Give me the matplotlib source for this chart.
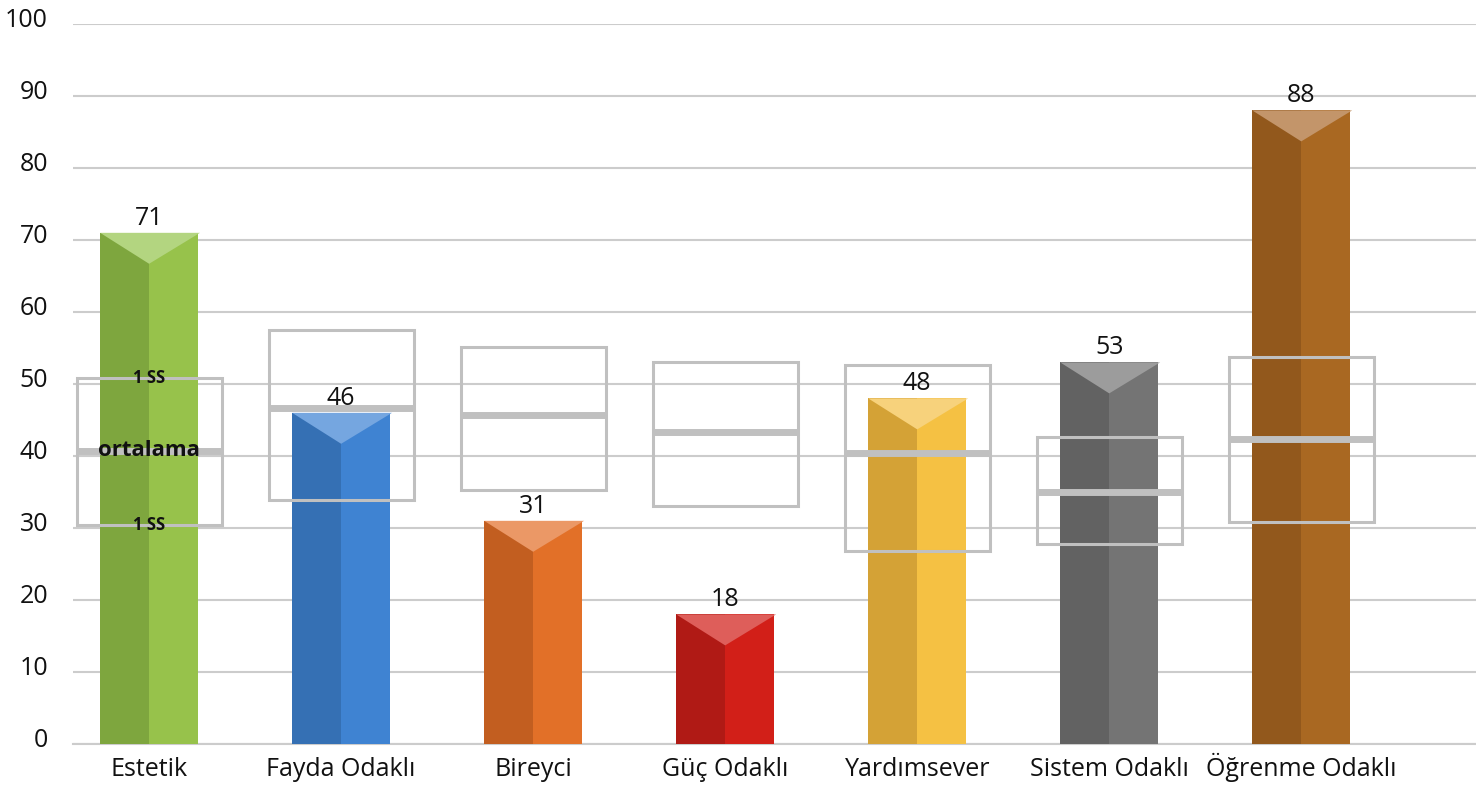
import matplotlib.pyplot as plt
from matplotlib.patches import Rectangle, Polygon
from matplotlib.transforms import ScaledTranslation

plt.rcParams['font.family'] = ['Open Sans', 'DejaVu Sans']

categories = ['Estetik', 'Fayda Odaklı', 'Bireyci', 'Güç Odaklı',
              'Yardımsever', 'Sistem Odaklı', 'Öğrenme Odaklı']
scores = [71, 46, 31, 18, 48, 53, 88]
means = [40.7, 46.7, 45.7, 43.3, 40.4, 35.0, 42.4]
sd_high = [50.8, 57.5, 55.1, 53.1, 52.6, 42.6, 53.8]
sd_low = [30.4, 33.9, 35.3, 33.1, 26.8, 27.8, 30.8]

dark = ['#7ea63e', '#3570b4', '#c25e20', '#b01a15', '#d4a236', '#626262', '#92581c']
light = ['#97c24b', '#3f83d2', '#e27028', '#d21f18', '#f5c143', '#747474', '#a96822']
tops = ['#b3d580', '#75a6e0', '#eb9866', '#de5e5a', '#f7d27c', '#9c9c9c', '#c3956a']

fig = plt.figure(figsize=(14.76, 7.85), dpi=100)
ax = fig.add_axes([0.0495, 0.0522, 0.9505, 0.9172])

bw = 0.51
boxw = 0.755
tri = 4.3
grid_c = '#cccccc'

for i, (v, d, l, t) in enumerate(zip(scores, dark, light, tops)):
    ax.bar(i - bw / 4, v, width=bw / 2, color=d, zorder=2, linewidth=0)
    ax.bar(i + bw / 4, v, width=bw / 2, color=l, zorder=2, linewidth=0)
    ax.add_patch(Polygon([(i - bw / 2, v), (i + bw / 2 + 0.01, v), (i, v - tri)],
                         closed=True, facecolor=t, edgecolor='none', zorder=3))
    ax.text(i, v + 0.3, str(v), ha='center', va='bottom', fontsize=18, color='#111111', zorder=6)

for i in range(len(categories)):
    ax.add_patch(Rectangle((i - boxw / 2, sd_low[i]), boxw, sd_high[i] - sd_low[i],
                           facecolor='none', edgecolor='#c0c0c0', linewidth=2.2, zorder=4))
    ax.plot([i - boxw / 2, i + boxw / 2], [means[i], means[i]], color='#c0c0c0',
            linewidth=5, solid_capstyle='butt', zorder=4)

ax.text(0, means[0], 'ortalama', ha='center', va='center', fontsize=16,
        fontweight='bold', color='#111111', zorder=6)
ax.text(0, sd_high[0], '1 SS', ha='center', va='center', fontsize=12,
        fontweight='bold', color='#111111', zorder=6)
ax.text(0, sd_low[0], '1 SS', ha='center', va='center', fontsize=12,
        fontweight='bold', color='#111111', zorder=6)

ax.set_ylim(0, 100)
ax.set_xlim(-0.396, 6.91)
ax.set_yticks(range(0, 101, 10))
ax.yaxis.grid(True, color=grid_c, linewidth=1.5, zorder=0)
ax.set_axisbelow(True)
ax.set_xticks(range(len(categories)))
ax.set_xticklabels(categories)
ax.tick_params(axis='both', length=0, labelsize=18, colors='#111111')
ax.tick_params(axis='y', pad=18)
ax.tick_params(axis='x', pad=23)
for lab in ax.get_xticklabels():
    lab.set_verticalalignment('baseline')
shift = ScaledTranslation(0, 0.07, fig.dpi_scale_trans)
for lab in ax.get_yticklabels():
    lab.set_transform(lab.get_transform() + shift)
for s in ['top', 'right', 'left']:
    ax.spines[s].set_visible(False)
ax.spines['bottom'].set_color(grid_c)
ax.spines['bottom'].set_linewidth(1.5)
ax.spines['bottom'].set_zorder(1)

fig.savefig('out.png', dpi=100)
